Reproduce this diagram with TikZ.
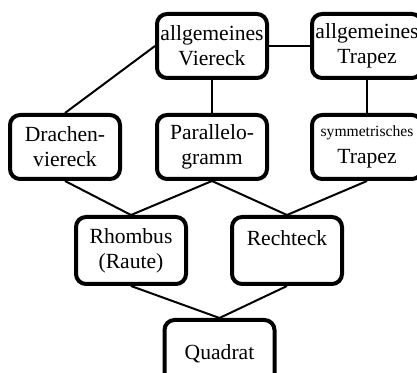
\documentclass[tikz,border=0pt]{standalone}
\usepackage{fontspec}
\setmainfont{Liberation Serif}
\usetikzlibrary{positioning}

\begin{document}
\begin{tikzpicture}[
    node distance=16.5pt,
    box/.style={
        rectangle,
        draw=black,
        line width=2pt,
        minimum width=55pt,
        minimum height=32pt,
        inner sep=1pt,
        align=center,
        rounded corners=5pt,
        font=\fontsize{10.8}{12.5}\selectfont
    },
    tallbox/.style={
        box,
        minimum height=33.5pt
    },
    link/.style={
        line width=1pt,
        black
    }
]

\useasboundingbox (0,0) rectangle (208.5pt,-186.5pt);

% Top row
\node[box] (viereck) at (106pt,-23pt) {allgemeines\\Viereck};
\node[box, right=20.5pt of viereck] (trapez) {allgemeines\\Trapez};

% Second row
\node[box, below=of viereck] (parallelogramm) {Parallelo-\\gramm};
\node[box, left=16.5pt of parallelogramm] (drachen) {Drachen-\\viereck};
\node[box, below=of trapez] (symtrapez) {{\fontsize{7.8}{9}\selectfont symmetrisches}\\[1pt]Trapez};

% Third row
\node[tallbox, below=17pt of drachen, xshift=33pt] (rhombus) {Rhombus\\(Raute)};
\node[tallbox, right=21pt of rhombus] (rechteck) {Rechteck\\\mbox{}};

% Bottom
\node[tallbox, below=16pt of rhombus, xshift=44.25pt] (quadrat) {Quadrat};

% Links
\draw[link] (viereck.west) -- (drachen.north);
\draw[link] (viereck) -- (trapez);
\draw[link] (viereck) -- (parallelogramm);
\draw[link] (trapez) -- (symtrapez);
\draw[link] (drachen.south) -- (rhombus.north);
\draw[link] (parallelogramm.south) -- (rhombus.north);
\draw[link] (parallelogramm.south) -- (rechteck.north);
\draw[link] (symtrapez.south) -- (rechteck.north);
\draw[link] (rhombus.south) -- (quadrat.north);
\draw[link] (rechteck.south) -- (quadrat.north);

\end{tikzpicture}
\end{document}
